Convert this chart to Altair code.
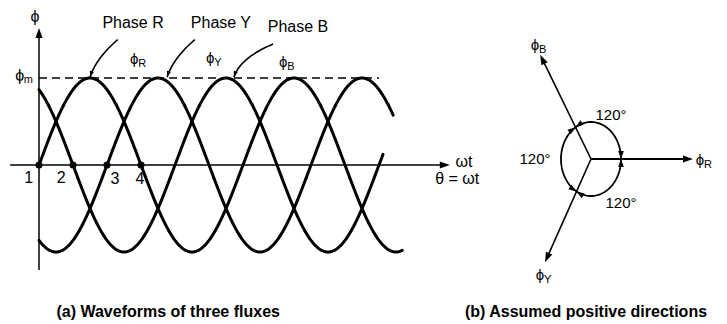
import math
import altair as alt
import numpy as np
import pandas as pd

# ------------------------------------------------------------------
# data (a): three phase flux waveforms, angles in degrees, flux in units of phi_m
PHASE_NAMES = ["R", "Y", "B"]
PHASE_SHIFT_DEG = [0, 120, 240]
CURVE_END_DEG = [641, 625, 607]
PHI_M = 1.0

MARK_THETA = [0, 60, 120, 180]
MARK_LABELS = ["1", "2", "3", "4"]
MARK_LABEL_THETA = [-18, 39, 134, 178]
MARK_LABEL_V = [-0.15, -0.15, -0.16, -0.16]

PHASE_TITLES = ["Phase R", "Phase Y", "Phase B"]
PHASE_TITLE_THETA = [166, 321, 457]
PHASE_TITLE_V = [1.63, 1.63, 1.59]

ARROW_START_THETA = [139, 275, 413]
ARROW_START_V = [1.44, 1.44, 1.39]
ARROW_TIP_THETA = [90, 226, 344]
ARROW_TIP_V = [1.01, 1.01, 1.01]

FLUX_LABEL_THETA = [168, 302, 431]
FLUX_LABEL_V = [1.22, 1.23, 1.18]

YAXIS_V = [-1.207, 1.575]
XAXIS_THETA = [-51, 725]
PHIM_LINE_THETA = [0, 600]

AXIS_TEXT = ["ϕ", "ωt", "θ = ωt", "ϕ"]
AXIS_TEXT_THETA = [-7, 750, 738, -34]
AXIS_TEXT_V = [1.70, 0.03, -0.16, 1.02]

CAPTION_A = "(a) Waveforms of three fluxes"
CAPTION_A_POS = (228, -1.694)

# data (b): phasor diagram (units: pixels of the drawing, y up)
VEC_NAMES = ["R", "B", "Y"]
VEC_ANGLE_DEG = [0, 116, 246]
VEC_LENGTH = [102, 116, 113]
VEC_LABEL_U = [109, -56, -51]
VEC_LABEL_W = [-1, 114, -116]
ELLIPSE_RX, ELLIPSE_RY = 30, 37
ANGLE_TEXT = ["120°", "120°", "120°"]
ANGLE_TEXT_U = [20, -56, 30]
ANGLE_TEXT_W = [44, 0, -44]
CAPTION_B = "(b) Assumed positive directions"
CAPTION_B_POS = (-5, -153)

# ------------------------------------------------------------------
W, H = 711, 312
KX = 204 / 360.0          # px per degree
KY = 87.0                 # px per unit flux
X0, Y0 = 31, 157          # chart px of theta=0, flux=0
XL = [-X0 / KX, (W - X0) / KX]
YL = [-(H - Y0) / KY, Y0 / KY]
CU, CW = 583, 151         # chart px of phasor centre
XR = [-CU, W - CU]
YR = [-(H - CW), CW]

FONT = "Liberation Sans"
ARROW_PATH = "M0,0L-0.35,1L0.35,1Z"


def xl(f):
    return alt.X(f"{f}:Q", scale=alt.Scale(domain=XL), axis=None)


def yl(f):
    return alt.Y(f"{f}:Q", scale=alt.Scale(domain=YL), axis=None)


def xr(f):
    return alt.X(f"{f}:Q", scale=alt.Scale(domain=XR), axis=None)


def yr(f):
    return alt.Y(f"{f}:Q", scale=alt.Scale(domain=YR), axis=None)


def texts(df, xs, ys, size, bold=False, align="center", dx=0, dy=0):
    return alt.Chart(df).mark_text(
        font=FONT, fontSize=size, fontWeight="bold" if bold else "normal",
        align=align, baseline="middle", dx=dx, dy=dy, color="black"
    ).encode(x=xs("x"), y=ys("y"), text="t:N")


def heads(df, xs, ys):
    return alt.Chart(df).mark_point(
        shape=ARROW_PATH, filled=True, color="black", opacity=1, strokeWidth=0
    ).encode(x=xs("x"), y=ys("y"),
             angle=alt.Angle("a:Q", scale=None),
             size=alt.Size("s:Q", scale=None))


# ---------------- panel (a) ----------------
rows = []
for name, sh, end in zip(PHASE_NAMES, PHASE_SHIFT_DEG, CURVE_END_DEG):
    th = np.append(np.arange(0, end, 2.0), end)
    for t in th:
        rows.append({"x": t, "y": PHI_M * math.sin(math.radians(t - sh)), "p": name})
waves = alt.Chart(pd.DataFrame(rows)).mark_line(
    color="black", strokeWidth=3, strokeCap="round"
).encode(x=xl("x"), y=yl("y"), detail="p:N")

phim = alt.Chart(pd.DataFrame({"x": [PHIM_LINE_THETA[0]], "x2": [PHIM_LINE_THETA[1]], "y": [PHI_M]})).mark_rule(
    color="black", strokeWidth=1.6, strokeDash=[8, 5]
).encode(x=xl("x"), x2="x2", y=yl("y"))

yaxis = alt.Chart(pd.DataFrame({"x": [0], "y": [YAXIS_V[0]], "y2": [YAXIS_V[1] - 0.05]})).mark_rule(
    color="black", strokeWidth=1.5
).encode(x=xl("x"), y=yl("y"), y2="y2")

xaxis = alt.Chart(pd.DataFrame({"x": [XAXIS_THETA[0]], "x2": [XAXIS_THETA[1] - 8], "y": [0]})).mark_rule(
    color="black", strokeWidth=1.3
).encode(x=xl("x"), x2="x2", y=yl("y"))

# curved pointer arrows (quadratic bends)
crow, hrow = [], []
for i, (sx, sy, tx, ty) in enumerate(zip(ARROW_START_THETA, ARROW_START_V, ARROW_TIP_THETA, ARROW_TIP_V)):
    # control point: 6.4 px right and 19.4 px above tip
    cx, cy = tx + 6.4 / KX, ty + 19.4 / KY
    for j, s in enumerate(np.linspace(0, 1, 25)):
        bx = (1 - s) ** 2 * sx + 2 * (1 - s) * s * cx + s ** 2 * tx
        by = (1 - s) ** 2 * sy + 2 * (1 - s) * s * cy + s ** 2 * ty
        crow.append({"x": bx, "y": by, "k": i, "o": j})
    ddx, ddy = (tx - cx) * KX, (ty - cy) * KY
    hrow.append({"x": tx, "y": ty, "a": math.degrees(math.atan2(ddx, ddy)) % 360, "s": 144})
pointers = alt.Chart(pd.DataFrame(crow)).mark_line(color="black", strokeWidth=1.6).encode(
    x=xl("x"), y=yl("y"), detail="k:N", order="o:Q")

hrow.append({"x": 0, "y": YAXIS_V[1], "a": 0, "s": 400})
hrow.append({"x": XAXIS_THETA[1], "y": 0, "a": 90, "s": 400})
heads_a = heads(pd.DataFrame(hrow), xl, yl)

dots = alt.Chart(pd.DataFrame({"x": MARK_THETA, "y": [0] * 4})).mark_circle(
    color="black", size=50, opacity=1).encode(x=xl("x"), y=yl("y"))

num_text = texts(pd.DataFrame({"x": MARK_LABEL_THETA, "y": MARK_LABEL_V, "t": MARK_LABELS}), xl, yl, 16)
title_text = texts(pd.DataFrame({"x": PHASE_TITLE_THETA, "y": PHASE_TITLE_V, "t": PHASE_TITLES}), xl, yl, 16)
phi_text = texts(pd.DataFrame({"x": FLUX_LABEL_THETA, "y": FLUX_LABEL_V, "t": ["ϕ"] * 3}), xl, yl, 15)
sub_text = texts(pd.DataFrame({"x": FLUX_LABEL_THETA, "y": FLUX_LABEL_V, "t": PHASE_NAMES}), xl, yl, 11,
                 align="left", dx=4, dy=5)
axis_text = texts(pd.DataFrame({"x": AXIS_TEXT_THETA, "y": AXIS_TEXT_V, "t": AXIS_TEXT}), xl, yl, 16)
m_text = texts(pd.DataFrame({"x": [AXIS_TEXT_THETA[3]], "y": [AXIS_TEXT_V[3]], "t": ["m"]}), xl, yl, 11,
               align="left", dx=4, dy=4)
cap_a = texts(pd.DataFrame({"x": [CAPTION_A_POS[0]], "y": [CAPTION_A_POS[1]], "t": [CAPTION_A]}), xl, yl, 16, bold=True)

panel_a = alt.layer(waves, phim, yaxis, xaxis, pointers, heads_a, dots, num_text, title_text,
                    phi_text, sub_text, axis_text, m_text, cap_a)

# ---------------- panel (b) ----------------
vrows, vheads = [], []
for n, ang, ln in zip(VEC_NAMES, VEC_ANGLE_DEG, VEC_LENGTH):
    r = math.radians(ang)
    tu, tw = ln * math.cos(r), ln * math.sin(r)
    back = 8 / ln
    vrows.append({"x": 0, "y": 0, "x2": tu * (1 - back), "y2": tw * (1 - back),
                  "w": 2.0 if n == "R" else 1.6})
    vheads.append({"x": tu, "y": tw, "a": (90 - ang) % 360, "s": 400})
vectors = alt.Chart(pd.DataFrame(vrows)).mark_rule(color="black").encode(
    x=xr("x"), y=yr("y"), x2="x2", y2="y2", strokeWidth=alt.StrokeWidth("w:Q", scale=None))

phis = np.linspace(0, 360, 181)
ell = pd.DataFrame({"x": ELLIPSE_RX * np.cos(np.radians(phis)),
                    "y": ELLIPSE_RY * np.sin(np.radians(phis)), "o": np.arange(len(phis))})
ellipse = alt.Chart(ell).mark_line(color="black", strokeWidth=1.8).encode(
    x=xr("x"), y=yr("y"), order="o:Q")

for ang in VEC_ANGLE_DEG:
    r = math.radians(ang)
    ph = math.atan2(ELLIPSE_RX * math.sin(r), ELLIPSE_RY * math.cos(r))
    px, py = ELLIPSE_RX * math.cos(ph), ELLIPSE_RY * math.sin(ph)
    tx, ty = -ELLIPSE_RX * math.sin(ph), ELLIPSE_RY * math.cos(ph)
    a_fwd = math.degrees(math.atan2(tx, ty)) % 360
    vheads.append({"x": px, "y": py, "a": a_fwd, "s": 256})
    vheads.append({"x": px, "y": py, "a": (a_fwd + 180) % 360, "s": 256})
heads_b = heads(pd.DataFrame(vheads), xr, yr)

vphi = texts(pd.DataFrame({"x": VEC_LABEL_U, "y": VEC_LABEL_W, "t": ["ϕ"] * 3}), xr, yr, 15)
vsub = texts(pd.DataFrame({"x": VEC_LABEL_U, "y": VEC_LABEL_W, "t": VEC_NAMES}), xr, yr, 11,
             align="left", dx=4, dy=5)
atext = texts(pd.DataFrame({"x": ANGLE_TEXT_U, "y": ANGLE_TEXT_W, "t": ANGLE_TEXT}), xr, yr, 15)
cap_b = texts(pd.DataFrame({"x": [CAPTION_B_POS[0]], "y": [CAPTION_B_POS[1]], "t": [CAPTION_B]}), xr, yr, 16, bold=True)

panel_b = alt.layer(vectors, ellipse, heads_b, vphi, vsub, atext, cap_b)

chart = alt.layer(panel_a, panel_b).resolve_scale(x="independent", y="independent").properties(
    width=W, height=H, padding=0, autosize=alt.AutoSizeParams(type="none"),
    background="white"
).configure_view(stroke=None)

chart.save("out.html", embed_options={"renderer": "svg", "actions": False})
